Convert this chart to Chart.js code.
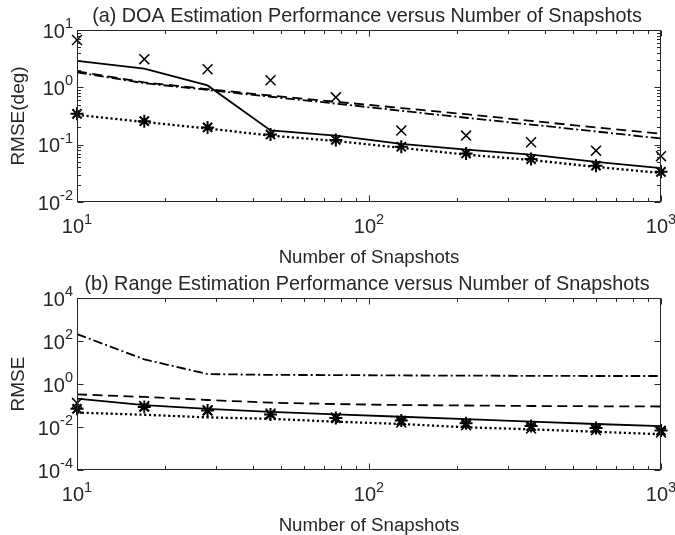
<!DOCTYPE html>
<html>
<head>
<meta charset="utf-8">
<title>RMSE versus Number of Snapshots</title>
<script src="https://cdn.jsdelivr.net/npm/chart.js@4.4.1/dist/chart.umd.min.js"></script>
<style>
  html, body { margin: 0; padding: 0; background: #fff; }
  #wrap { position: relative; width: 675px; height: 535px; }
  canvas { position: absolute; left: 0; }
</style>
</head>
<body>
<div id="wrap">
  <canvas id="doaChart" width="675" height="267" style="top:0"></canvas>
  <canvas id="rangeChart" width="675" height="268" style="top:267px"></canvas>
</div>
<script>
"use strict";

// --- Data ---
const snapshots = [10, 17, 28, 46, 77, 129, 215, 359, 599, 1000];

// (a) DOA RMSE (deg)
const doaSolid   = [2.9, 2.12, 1.08, 0.177, 0.144, 0.103, 0.082, 0.067, 0.05, 0.039];
const doaDashed  = [1.9, 1.22, 0.93, 0.72, 0.56, 0.435, 0.34, 0.26, 0.2, 0.155];
const doaDashDot = [1.82, 1.18, 0.9, 0.685, 0.52, 0.39, 0.295, 0.224, 0.17, 0.128];
const doaDotted  = [0.33, 0.248, 0.192, 0.144, 0.116, 0.088, 0.067, 0.054, 0.041, 0.032];
const doaCross   = [6.7, 3.1, 2.07, 1.33, 0.67, 0.176, 0.144, 0.11, 0.0785, 0.063];
const doaStar    = [0.345, 0.257, 0.2, 0.15, 0.121, 0.092, 0.07, 0.056, 0.043, 0.0336];

// (b) Range RMSE
const rangeSolid   = [0.21, 0.105, 0.069, 0.051, 0.039, 0.03, 0.023, 0.0177, 0.0138, 0.011];
const rangeDashed  = [0.33, 0.25, 0.18, 0.135, 0.117, 0.105, 0.1, 0.095, 0.092, 0.09];
const rangeDashDot = [210, 14, 2.9, 2.65, 2.6, 2.5, 2.45, 2.4, 2.35, 2.35];
const rangeDotted  = [0.047, 0.037, 0.028, 0.024, 0.0177, 0.0138, 0.0097, 0.0078, 0.006, 0.0046];
const rangeCross   = [0.13, 0.095, 0.06, 0.042, 0.028, 0.016, 0.012, 0.0085, 0.0072, 0.0055];
const rangeStar    = [0.07, 0.085, 0.058, 0.038, 0.026, 0.02, 0.015, 0.011, 0.009, 0.0068];

// Tick labels (powers of ten)
const xTickExps = [1, 2, 3];
const doaYTickExps = [-2, -1, 0, 1];
const rangeYTickExps = [-4, -2, 0, 2, 4];

const FONT = '"Liberation Sans", Arial, Helvetica, sans-serif';
const INK = '#262626';

const toPoints = ys => snapshots.map((n, i) => ({ x: n, y: ys[i] }));

/** Draws "10" with a raised exponent. */
function drawPower(ctx, exp, x, baseline, align) {
    ctx.font = `20px ${FONT}`;
    const wBase = ctx.measureText('10').width;
    ctx.font = `14.5px ${FONT}`;
    const wExp = ctx.measureText(String(exp)).width;
    const total = wBase + wExp;
    const left = align === 'right' ? x - total : x - total / 2;
    ctx.textAlign = 'left';
    ctx.textBaseline = 'alphabetic';
    ctx.font = `20px ${FONT}`;
    ctx.fillText('10', left, baseline);
    ctx.font = `14.5px ${FONT}`;
    ctx.fillText(String(exp), left + wBase, baseline - 9.5);
}

// MATLAB-like boxed axes: inward ticks on all sides, power-of-ten labels, titles
const matlabAxes = {
    id: 'matlabAxes',
    afterDraw(chart, args, opts) {
        const { ctx, chartArea: a, scales: { x, y } } = chart;
        ctx.save();
        ctx.strokeStyle = INK;
        ctx.fillStyle = INK;
        ctx.lineWidth = 1;
        ctx.setLineDash([]);

        const L = Math.round(a.left) + 0.5, R = Math.round(a.right) - 0.5;
        const T = Math.round(a.top) + 0.5, B = Math.round(a.bottom) - 0.5;
        ctx.strokeRect(L, T, R - L, B - T);

        const tick = (x1, y1, x2, y2) => { ctx.beginPath(); ctx.moveTo(x1, y1); ctx.lineTo(x2, y2); ctx.stroke(); };
        const major = 6, minor = 3.5;

        // x ticks
        xTickExps.forEach(e => {
            const px = Math.round(x.getPixelForValue(10 ** e)) + 0.5;
            tick(px, B, px, B - major);
            tick(px, T, px, T + major);
            if (e < xTickExps[xTickExps.length - 1]) {
                for (let k = 2; k <= 9; k++) {
                    const mx = Math.round(x.getPixelForValue(k * 10 ** e)) + 0.5;
                    tick(mx, B, mx, B - minor);
                    tick(mx, T, mx, T + minor);
                }
            }
        });

        // y ticks
        const yExps = opts.yExps;
        yExps.forEach((e, i) => {
            const py = Math.round(y.getPixelForValue(10 ** e)) + 0.5;
            tick(L, py, L + major, py);
            tick(R, py, R - major, py);
            if (opts.yMinor && i < yExps.length - 1) {
                for (let k = 2; k <= 9; k++) {
                    const my = Math.round(y.getPixelForValue(k * 10 ** e)) + 0.5;
                    tick(L, my, L + minor, my);
                    tick(R, my, R - minor, my);
                }
            }
        });

        // tick labels
        xTickExps.forEach(e => drawPower(ctx, e, x.getPixelForValue(10 ** e), a.bottom + 31, 'center'));
        yExps.forEach(e => drawPower(ctx, e, a.left - 4, y.getPixelForValue(10 ** e) + 7.5, 'right'));

        // title and axis labels
        const cx = (a.left + a.right) / 2;
        ctx.textAlign = 'center';
        ctx.textBaseline = 'alphabetic';
        ctx.font = `19.8px ${FONT}`;
        ctx.fillText(opts.title, cx - 2, a.top - 8);
        ctx.font = `18.7px ${FONT}`;
        ctx.fillText(opts.xLabel, cx, a.bottom + 61);

        ctx.translate(18.5, (a.top + a.bottom) / 2);
        ctx.rotate(-Math.PI / 2);
        ctx.textBaseline = 'middle';
        ctx.font = `19px ${FONT}`;
        ctx.fillText(opts.yLabel, 0, 0);
        ctx.restore();
    }
};

function lineSet(label, ys, dash, width) {
    return {
        label, data: toPoints(ys),
        borderColor: '#000', borderWidth: width, borderDash: dash,
        pointRadius: 0, tension: 0, clip: false, fill: false
    };
}

function markerSet(label, ys, style, radius, width) {
    return {
        label, data: toPoints(ys), showLine: false,
        pointStyle: style, pointRadius: radius, pointBorderWidth: width,
        pointBorderColor: '#000', pointBackgroundColor: 'rgba(0,0,0,0)',
        borderColor: '#000', clip: false
    };
}

function makeChart(canvasId, series, yMin, yMax, axesOpts, padding) {
    const ctx = document.getElementById(canvasId).getContext('2d');
    return new Chart(ctx, {
        type: 'line',
        data: {
            datasets: [
                lineSet('Solid', series.solid, [], 1.8),
                lineSet('Dashed', series.dashed, [10, 5.5], 1.8),
                lineSet('Dash-dot', series.dashDot, [9.5, 3, 2, 3], 1.8),
                lineSet('Dotted', series.dotted, [2.2, 2.6], 2.3),
                markerSet('Cross', series.cross, 'crossRot', 7, 1.5),
                markerSet('Star', series.star, 'star', 6.5, 2)
            ]
        },
        options: {
            responsive: false,
            animation: false,
            events: [],
            devicePixelRatio: 1,
            layout: { padding },
            plugins: {
                legend: { display: false },
                tooltip: { enabled: false },
                matlabAxes: axesOpts
            },
            scales: {
                x: { type: 'logarithmic', min: 10, max: 1000, display: false },
                y: { type: 'logarithmic', min: yMin, max: yMax, display: false }
            }
        },
        plugins: [matlabAxes]
    });
}

makeChart('doaChart',
    { solid: doaSolid, dashed: doaDashed, dashDot: doaDashDot, dotted: doaDotted, cross: doaCross, star: doaStar },
    0.01, 10,
    {
        title: '(a) DOA Estimation Performance versus Number of Snapshots',
        xLabel: 'Number of Snapshots', yLabel: 'RMSE(deg)',
        yExps: doaYTickExps, yMinor: true
    },
    { left: 77, right: 14, top: 30, bottom: 65 });

makeChart('rangeChart',
    { solid: rangeSolid, dashed: rangeDashed, dashDot: rangeDashDot, dotted: rangeDotted, cross: rangeCross, star: rangeStar },
    1e-4, 1e4,
    {
        title: '(b) Range Estimation Performance versus Number of Snapshots',
        xLabel: 'Number of Snapshots', yLabel: 'RMSE',
        yExps: rangeYTickExps, yMinor: false
    },
    { left: 77, right: 14, top: 31, bottom: 65 });
</script>
</body>
</html>
